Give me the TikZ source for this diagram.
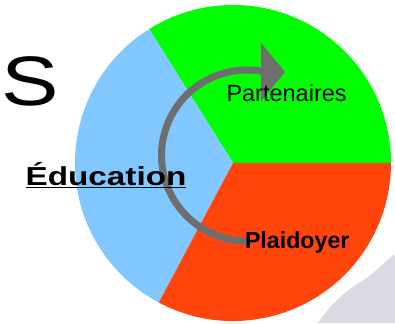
\documentclass[tikz,border=0pt]{standalone}
\usepackage{fontspec}
\newfontfamily\arial{Liberation Sans}
\definecolor{pieblue}{RGB}{128,200,255}
\definecolor{piegreen}{RGB}{0,255,0}
\definecolor{piered}{RGB}{255,68,12}
\definecolor{arrowgray}{RGB}{110,110,110}
\definecolor{shadowgray}{RGB}{218,218,228}
\begin{document}
\begin{tikzpicture}[x=1pt,y=1pt,
  lbl/.style={inner sep=0pt, outer sep=0pt, text=black},
  sector/.style={draw=none}]
\useasboundingbox (0,0) rectangle (395,323);
% background shadow region at bottom right
\fill[shadowgray] (318,0) .. controls (330,18) and (345,32) .. (362,42) .. controls (375,50) and (385,62) .. (395,69) -- (395,0) -- cycle;
% pie
\coordinate (c) at (233,160);
\def\R{158}
\fill[piegreen] (c) -- ++(0:\R) arc[start angle=0, end angle=122, radius=\R] -- cycle;
\fill[pieblue] (c) -- ++(122:\R) arc[start angle=122, end angle=242, radius=\R] -- cycle;
\fill[piered] (c) -- ++(242:\R) arc[start angle=242, end angle=360, radius=\R] -- cycle;
% circular arrow
\coordinate (ac) at (247,167.5);
\draw[arrowgray, line width=7pt] (ac) ++(-88:85.5) coordinate (astart) arc[start angle=-88, end angle=-280, radius=85.5] coordinate (aend);
\fill[arrowgray] (261,280) -- (285,251) -- (261,222) -- cycle;
% texts
\node[lbl, anchor=base, xscale=1.23] (s) at (30,217) {\arial\fontsize{70}{70}\selectfont S};
\node[lbl, anchor=base, xscale=1.28] (edu) at (106,137.3) {\arial\bfseries\fontsize{26}{26}\selectfont \underline{Éducation}};
\node[lbl, anchor=base west] (part) at (226.5,221) {\arial\fontsize{23.5}{23.5}\selectfont Partenaires};
\node[lbl, anchor=base west] (plai) at (245,74) {\arial\bfseries\fontsize{23.2}{23.2}\selectfont Plaidoyer};
\end{tikzpicture}
\end{document}
